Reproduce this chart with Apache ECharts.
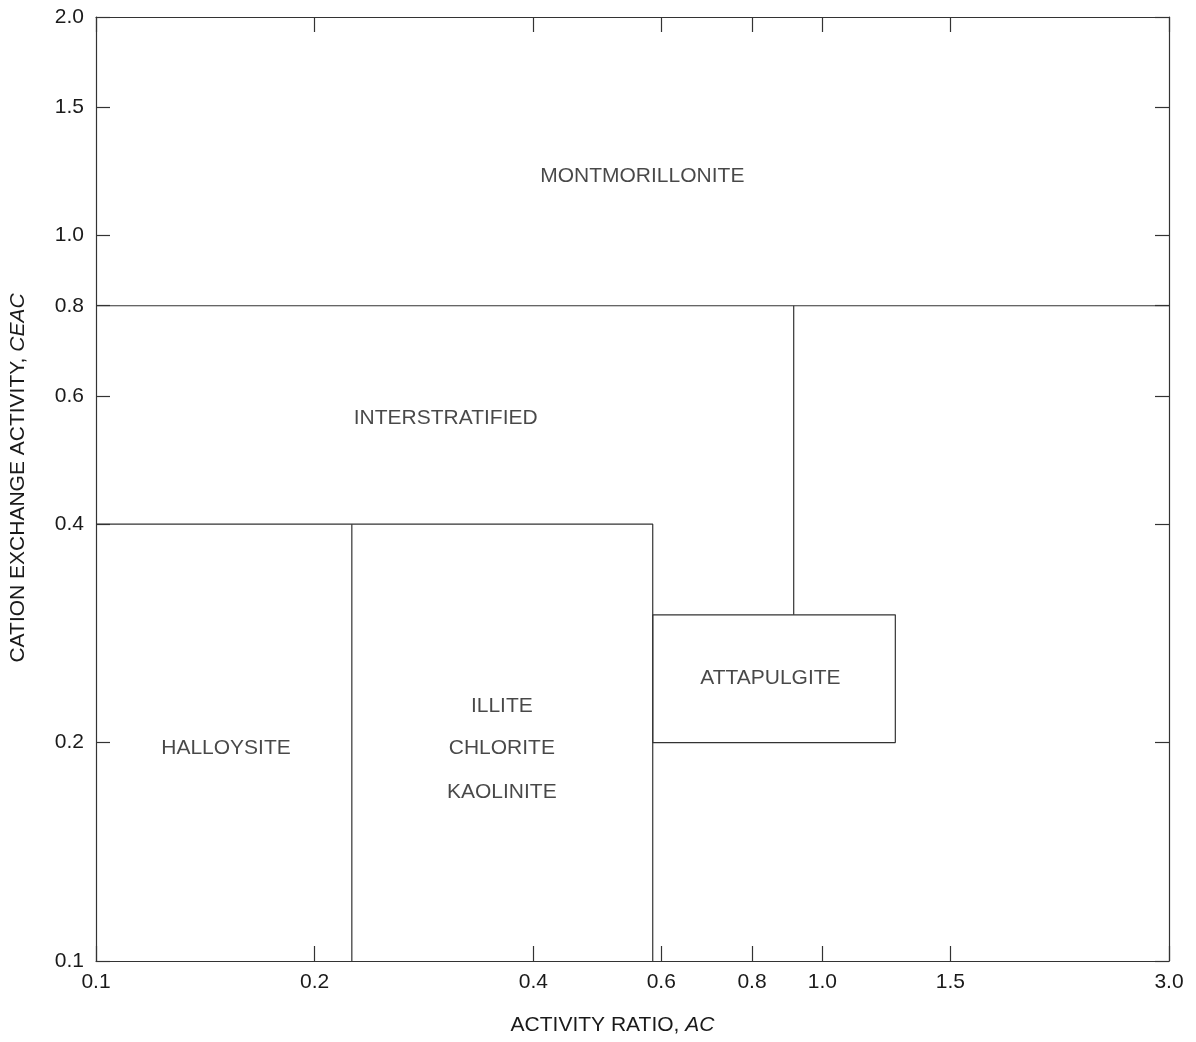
<!DOCTYPE html>
<html>
<head>
<meta charset="utf-8">
<script src="https://cdn.jsdelivr.net/npm/echarts@6/dist/echarts.min.js"></script>
<style>
  html, body { margin: 0; padding: 0; background: #ffffff; }
  #chart { width: 1196px; height: 1042px; }
</style>
</head>
<body>
<div id="chart"></div>
<script>
// Axis ranges and tick values
const xRange = [0.1, 3.0];
const yRange = [0.1, 2.0];
const xTickValues = [0.1, 0.2, 0.4, 0.6, 0.8, 1.0, 1.5, 3.0];
const yTickValues = [0.1, 0.2, 0.4, 0.6, 0.8, 1.0, 1.5, 2.0];

// Region boundaries (activity ratio AC, cation exchange activity CEAC)
const montmorilloniteFloor = [[0.1, 0.8], [3.0, 0.8]];
const attapulgiteStem = [[0.913, 0.8], [0.913, 0.3]];
const attapulgiteBox = [[0.584, 0.3], [1.26, 0.3], [1.26, 0.2], [0.584, 0.2], [0.584, 0.3]];
const illiteBox = [[0.1, 0.4], [0.584, 0.4], [0.584, 0.1]];
const halloysiteDivide = [[0.225, 0.4], [0.225, 0.1]];

// Region labels
const regionNames = ['MONTMORILLONITE', 'INTERSTRATIFIED', 'HALLOYSITE', 'ILLITE', 'CHLORITE', 'KAOLINITE', 'ATTAPULGITE'];
const regionX = [0.565, 0.303, 0.151, 0.362, 0.362, 0.362, 0.848];
const regionY = [1.208, 0.560, 0.1966, 0.2245, 0.1966, 0.171, 0.2455];

const FONT = '"Liberation Sans", Arial, Helvetica, sans-serif';
const TEXT = '#1a1a1a';
const LINE = '#333333';
const FS = 21;

const chart = echarts.init(document.getElementById('chart'));

function fmt(v) { return Number(v).toFixed(1); }

const boundaries = [montmorilloniteFloor, attapulgiteStem, attapulgiteBox, illiteBox, halloysiteDivide];

const lineSeries = boundaries.map(function (pts) {
  return {
    type: 'line',
    xAxisIndex: 0,
    yAxisIndex: 0,
    data: pts,
    symbol: 'none',
    silent: true,
    animation: false,
    lineStyle: { color: LINE, width: 1.2 }
  };
});

const labelSeries = {
  type: 'scatter',
  xAxisIndex: 0,
  yAxisIndex: 0,
  symbolSize: 0,
  silent: true,
  animation: false,
  data: regionNames.map(function (n, i) { return { name: n, value: [regionX[i], regionY[i]] }; }),
  label: {
    show: true,
    position: 'inside',
    formatter: function (p) { return p.name; },
    fontFamily: FONT,
    fontSize: FS,
    color: TEXT
  }
};

const axisLineStyle = { show: true, lineStyle: { color: LINE, width: 1.2 } };

chart.setOption({
  animation: false,
  backgroundColor: '#ffffff',
  grid: { left: 95, right: 27, top: 17, bottom: 81, containLabel: false },
  xAxis: [
    {
      type: 'log', position: 'bottom', min: xRange[0], max: xRange[1],
      axisLine: axisLineStyle,
      axisTick: { show: true, inside: true, length: 15, customValues: xTickValues, lineStyle: { color: LINE, width: 1.2 } },
      axisLabel: { show: true, customValues: xTickValues, formatter: fmt, margin: 11, fontFamily: FONT, fontSize: FS, color: TEXT, showMinLabel: true, showMaxLabel: true },
      minorTick: { show: false },
      splitLine: { show: false },
      name: '{n|ACTIVITY RATIO, }{i|AC}',
      nameLocation: 'middle',
      nameGap: 54,
      nameTextStyle: {
        padding: [0, 40, 0, 0],
        rich: {
          n: { fontFamily: FONT, fontSize: FS, color: TEXT },
          i: { fontFamily: FONT, fontSize: FS, color: TEXT, fontStyle: 'italic' }
        }
      }
    },
    {
      type: 'log', position: 'top', min: xRange[0], max: xRange[1],
      axisLine: axisLineStyle,
      axisTick: { show: true, inside: true, length: 15, customValues: xTickValues, lineStyle: { color: LINE, width: 1.2 } },
      axisLabel: { show: false },
      splitLine: { show: false }
    }
  ],
  yAxis: [
    {
      type: 'log', position: 'left', min: yRange[0], max: yRange[1],
      axisLine: axisLineStyle,
      axisTick: { show: true, inside: true, length: 14, customValues: yTickValues, lineStyle: { color: LINE, width: 1.2 } },
      axisLabel: { show: true, customValues: yTickValues, formatter: fmt, margin: 12, fontFamily: FONT, fontSize: FS, color: TEXT, showMinLabel: true, showMaxLabel: true },
      splitLine: { show: false },
      name: '{n|CATION EXCHANGE ACTIVITY, }{i|CEAC}',
      nameLocation: 'middle',
      nameGap: 67,
      nameTextStyle: {
        padding: [0, 0, 0, 22],
        rich: {
          n: { fontFamily: FONT, fontSize: FS, color: TEXT },
          i: { fontFamily: FONT, fontSize: FS, color: TEXT, fontStyle: 'italic' }
        }
      }
    },
    {
      type: 'log', position: 'right', min: yRange[0], max: yRange[1],
      axisLine: axisLineStyle,
      axisTick: { show: true, inside: true, length: 14, customValues: yTickValues, lineStyle: { color: LINE, width: 1.2 } },
      axisLabel: { show: false },
      splitLine: { show: false }
    }
  ],
  series: lineSeries.concat([labelSeries])
});
</script>
</body>
</html>
